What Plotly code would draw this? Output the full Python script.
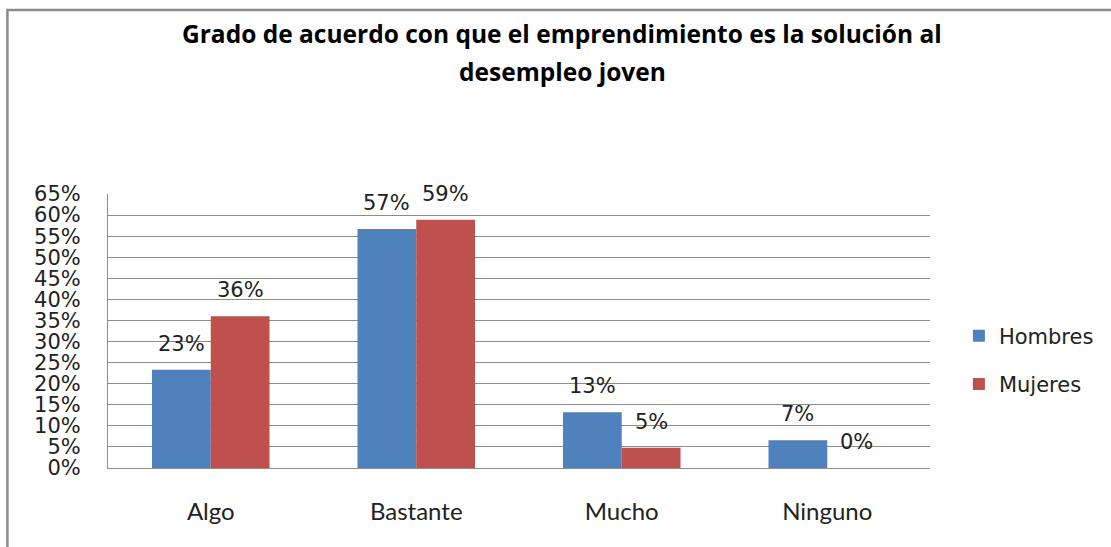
import plotly.graph_objects as go

categories = ["Algo", "Bastante", "Mucho", "Ninguno"]
hombres = [0.233, 0.567, 0.132, 0.066]
mujeres = [0.360, 0.589, 0.048, 0.000]
hombres_labels = ["23%", "57%", "13%", "7%"]
mujeres_labels = ["36%", "59%", "5%", "0%"]
title_lines = ["Grado de acuerdo con que el emprendimiento es la solución al", "desempleo joven"]

W, H = 1111, 547
L, R, T, B = 108, 178, 194, 79
pw, ph = W - L - R, H - T - B

def px_x(p):
    return (p - L) / pw

def px_y(p):
    return (H - B - p) / ph

blue = "#4F81BD"
red = "#C0504D"
grid = "#8C8C8C"

fig = go.Figure()
fig.add_trace(go.Bar(name="Hombres", x=categories, y=hombres, marker=dict(color=blue, line=dict(width=0)),
                     legendgroup="h"))
fig.add_trace(go.Bar(name="Mujeres", x=categories, y=mujeres, marker=dict(color=red, line=dict(width=0)),
                     legendgroup="m"))

cat_w = pw / len(categories)
bargap = 0.428
bar_w = cat_w * (1 - bargap) / 2
lab_font = dict(family="DejaVu Sans", size=21, color="#222")
annos = []
for cat, v, t in zip(categories, hombres, hombres_labels):
    annos.append(dict(x=cat, y=v, text=t, xref="x", yref="y", showarrow=False, yanchor="bottom",
                      xshift=-bar_w / 2, yshift=12, font=lab_font))
for cat, v, t in zip(categories, mujeres, mujeres_labels):
    annos.append(dict(x=cat, y=v, text=t, xref="x", yref="y", showarrow=False, yanchor="bottom",
                      xshift=bar_w / 2, yshift=12, font=lab_font))

title_y = [33, 71]
for line, ty in zip(title_lines, title_y):
    annos.append(dict(x=px_x(564), y=px_y(ty), xref="paper", yref="paper", text="<b>" + line + "</b>",
                      showarrow=False, xanchor="center", yanchor="middle",
                      font=dict(family="Open Sans", size=24.5, color="#000")))

fig.update_layout(
    width=W, height=H,
    margin=dict(l=L, r=R, t=T, b=B, pad=0),
    paper_bgcolor="white", plot_bgcolor="white",
    barmode="group", bargap=bargap, bargroupgap=0,
    annotations=annos,
    showlegend=True,
    legend=dict(x=px_x(962), y=px_y(360), xanchor="left", yanchor="middle",
                font=lab_font, tracegroupgap=18, bgcolor="rgba(0,0,0,0)"),
    shapes=[dict(type="rect", xref="paper", yref="paper",
                 x0=px_x(7), x1=px_x(1130), y0=px_y(560), y1=px_y(10),
                 line=dict(color="#8C8C8C", width=2.5), fillcolor="rgba(0,0,0,0)", layer="below")],
)
fig.update_xaxes(showgrid=False, showline=True, linecolor=grid, linewidth=1, ticks="",
                 tickfont=dict(family="Lato", size=24, color="#222"), ticklabelstandoff=22,
                 fixedrange=True)
fig.update_yaxes(range=[0, 0.65], dtick=0.05, tickformat=".0%", showgrid=True, gridcolor=grid, gridwidth=1,
                 showline=True, linecolor=grid, linewidth=1, ticks="", zeroline=False,
                 tickfont=lab_font, ticklabelstandoff=22,
                 fixedrange=True)

fig.write_html("out.html", config={"displayModeBar": False},
               post_script="document.body.style.margin='0';document.body.style.overflow='hidden';")
